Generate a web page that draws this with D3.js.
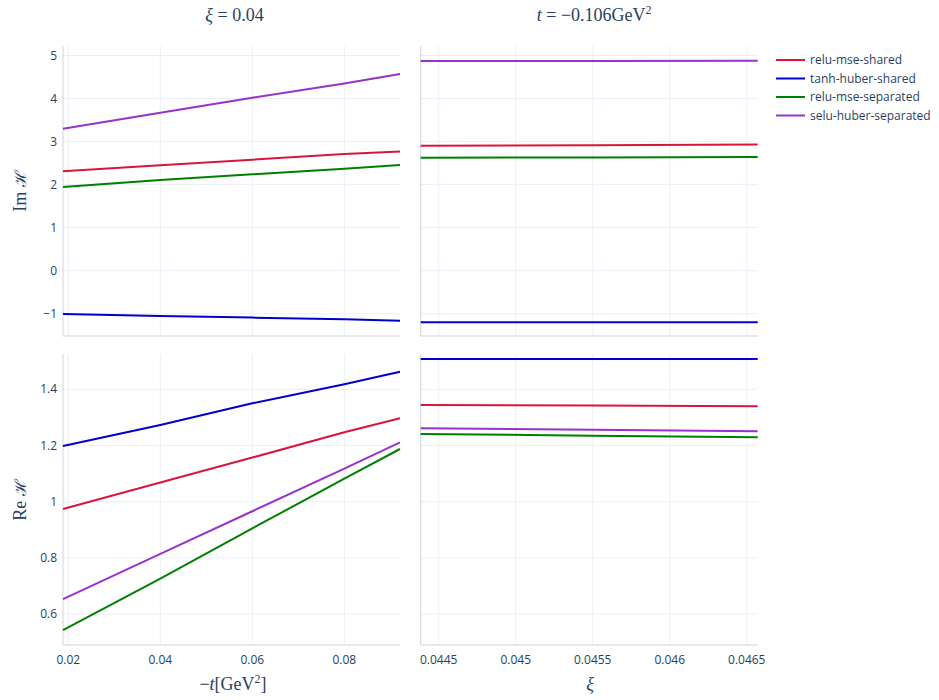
<!DOCTYPE html>
<html><head><meta charset="utf-8">
<script src="https://cdn.jsdelivr.net/npm/d3@7"></script>
<style>body{margin:0;background:#fff;} svg{display:block;}</style>
</head><body><svg id="c" width="939" height="700"></svg>
<script>
// ---------- data ----------
const seriesNames = ["relu-mse-shared","tanh-huber-shared","relu-mse-separated","selu-huber-separated"];
const seriesColors = ["crimson","mediumblue","green","darkorchid"];

const tValues = [0.01885, 0.04, 0.06, 0.08, 0.0921];
const imT_reluShared   = [2.31, 2.45, 2.58, 2.71, 2.77];
const imT_tanhShared   = [-1.006, -1.052, -1.09, -1.13, -1.16];
const imT_reluSep      = [1.945, 2.107, 2.24, 2.37, 2.455];
const imT_seluSep      = [3.30, 3.67, 4.02, 4.35, 4.57];
const reT_reluShared   = [0.974, 1.068, 1.157, 1.247, 1.297];
const reT_tanhShared   = [1.198, 1.273, 1.350, 1.418, 1.4626];
const reT_reluSep      = [0.543, 0.726, 0.905, 1.082, 1.1875];
const reT_seluSep      = [0.653, 0.814, 0.966, 1.118, 1.211];

const xiValues = [0.044383, 0.0455, 0.046571];
const imXi_reluShared  = [2.905, 2.915, 2.93];
const imXi_tanhShared  = [-1.198, -1.198, -1.198];
const imXi_reluSep     = [2.625, 2.632, 2.64];
const imXi_seluSep     = [4.870, 4.874, 4.878];
const reXi_reluShared  = [1.344, 1.342, 1.3395];
const reXi_tanhShared  = [1.508, 1.508, 1.508];
const reXi_reluSep     = [1.241, 1.235, 1.229];
const reXi_seluSep     = [1.261, 1.256, 1.2505];

const tTicks  = [0.02, 0.04, 0.06, 0.08];
const xiTicks = [0.0445, 0.045, 0.0455, 0.046, 0.0465];
const imTicks = [-1, 0, 1, 2, 3, 4, 5];
const reTicks = [0.6, 0.8, 1, 1.2, 1.4];

// ---------- layout ----------
const svg = d3.select("#c");
const font = "'Open Sans', verdana, arial, sans-serif";
const txtColor = "#2a3f5f";
const gridColor = "#EBF0F8";
const lineColor = "#cfd3d9";

const colL = [63, 400], colR = [420.7, 757.7];
const rowT = [46, 336], rowB = [354, 645];

const xT  = d3.scaleLinear().domain([0.01885, 0.0921]).range(colL);
const xXi = d3.scaleLinear().domain([0.044383, 0.046571]).range(colR);
const yIm = d3.scaleLinear().domain([-1.517, 5.22]).range([rowT[1], rowT[0]]);
const yRe = d3.scaleLinear().domain([0.490, 1.5256]).range([rowB[1], rowB[0]]);

const fmt = v => { let s = String(+v.toFixed(5)); return v < 0 ? "\u2212" + s.slice(1) : s; };

const panels = [
  {x: xT,  y: yIm, xt: tTicks,  yt: imTicks, data: [imT_reluShared, imT_tanhShared, imT_reluSep, imT_seluSep], xs: tValues, showY: true, showX: false},
  {x: xXi, y: yIm, xt: xiTicks, yt: imTicks, data: [imXi_reluShared, imXi_tanhShared, imXi_reluSep, imXi_seluSep], xs: xiValues, showY: false, showX: false},
  {x: xT,  y: yRe, xt: tTicks,  yt: reTicks, data: [reT_reluShared, reT_tanhShared, reT_reluSep, reT_seluSep], xs: tValues, showY: true, showX: true},
  {x: xXi, y: yRe, xt: xiTicks, yt: reTicks, data: [reXi_reluShared, reXi_tanhShared, reXi_reluSep, reXi_seluSep], xs: xiValues, showY: false, showX: true},
];

panels.forEach((p, pi) => {
  const g = svg.append("g");
  const [x0, x1] = p.x.range();
  const [y1, y0] = p.y.range();
  g.selectAll(".vg").data(p.xt).join("line")
    .attr("x1", d => p.x(d)).attr("x2", d => p.x(d)).attr("y1", y0).attr("y2", y1)
    .attr("stroke", gridColor).attr("stroke-width", 1);
  g.selectAll(".hg").data(p.yt).join("line")
    .attr("x1", x0).attr("x2", x1).attr("y1", d => p.y(d)).attr("y2", d => p.y(d))
    .attr("stroke", gridColor).attr("stroke-width", 1);
  g.append("line").attr("x1", x0).attr("x2", x0).attr("y1", y0).attr("y2", y1)
    .attr("stroke", lineColor).attr("stroke-width", 1);
  g.append("line").attr("x1", x0).attr("x2", x1).attr("y1", y1).attr("y2", y1)
    .attr("stroke", lineColor).attr("stroke-width", 1);
  const line = d3.line().x((d, i) => p.x(p.xs[i])).y(d => p.y(d));
  p.data.forEach((arr, si) => {
    g.append("path").attr("d", line(arr)).attr("fill", "none")
      .attr("stroke", seriesColors[si]).attr("stroke-width", 2);
  });
  if (p.showY) {
    g.selectAll(".yl").data(p.yt).join("text")
      .attr("x", x0 - 6).attr("y", d => p.y(d)).attr("dy", "0.35em")
      .attr("text-anchor", "end").attr("font-family", font).attr("font-size", 12)
      .attr("fill", txtColor).text(fmt);
  }
  if (p.showX) {
    g.selectAll(".xl").data(p.xt).join("text")
      .attr("x", d => p.x(d)).attr("y", y1 + 15).attr("dy", "0.35em")
      .attr("text-anchor", "middle").attr("font-family", font).attr("font-size", 12)
      .attr("fill", txtColor).text(fmt);
  }
});

// ---------- titles ----------
const serif = "'Liberation Serif', 'DejaVu Serif', serif";
function mathText(x, y, parts, rotate) {
  const t = svg.append("text").attr("x", x).attr("y", y).attr("text-anchor", "middle")
    .attr("font-family", serif).attr("font-size", 18).attr("fill", txtColor);
  if (rotate) t.attr("transform", `rotate(-90,${x},${y})`);
  parts.forEach(pt => {
    const s = t.append("tspan").text(pt.s);
    if (pt.i) s.attr("font-style", "italic");
    if (pt.cal) s.attr("font-family", "'DejaVu Serif', serif").attr("font-size", 16);
    if (pt.sup) s.attr("font-size", 12).attr("dy", -7);
    if (pt.down) s.attr("dy", pt.down);
  });
  return t;
}
mathText((colL[0] + colL[1]) / 2 + 3, 21, [{s: "ξ", i: true}, {s: " = 0.04"}]);
mathText((colR[0] + colR[1]) / 2 + 5, 21, [{s: "t", i: true}, {s: " = −0.106GeV"}, {s: "2", sup: true}]);
mathText(233, 690, [{s: "−"}, {s: "t", i: true}, {s: "[GeV"}, {s: "2", sup: true}, {s: "]", down: 7}]);
mathText(590, 690, [{s: "ξ", i: true}]);
mathText(26, 191, [{s: "Im "}, {s: "ℋ", cal: true}], true);
mathText(26, 500, [{s: "Re "}, {s: "ℋ", cal: true}], true);

// ---------- legend ----------
const lg = svg.append("g");
seriesNames.forEach((n, i) => {
  const y = 60 + i * 18.5;
  lg.append("line").attr("x1", 776).attr("x2", 805).attr("y1", y).attr("y2", y)
    .attr("stroke", seriesColors[i]).attr("stroke-width", 2);
  lg.append("text").attr("x", 810).attr("y", y).attr("dy", "0.35em")
    .attr("font-family", font).attr("font-size", 12).attr("fill", txtColor).text(n);
});
</script></body></html>
